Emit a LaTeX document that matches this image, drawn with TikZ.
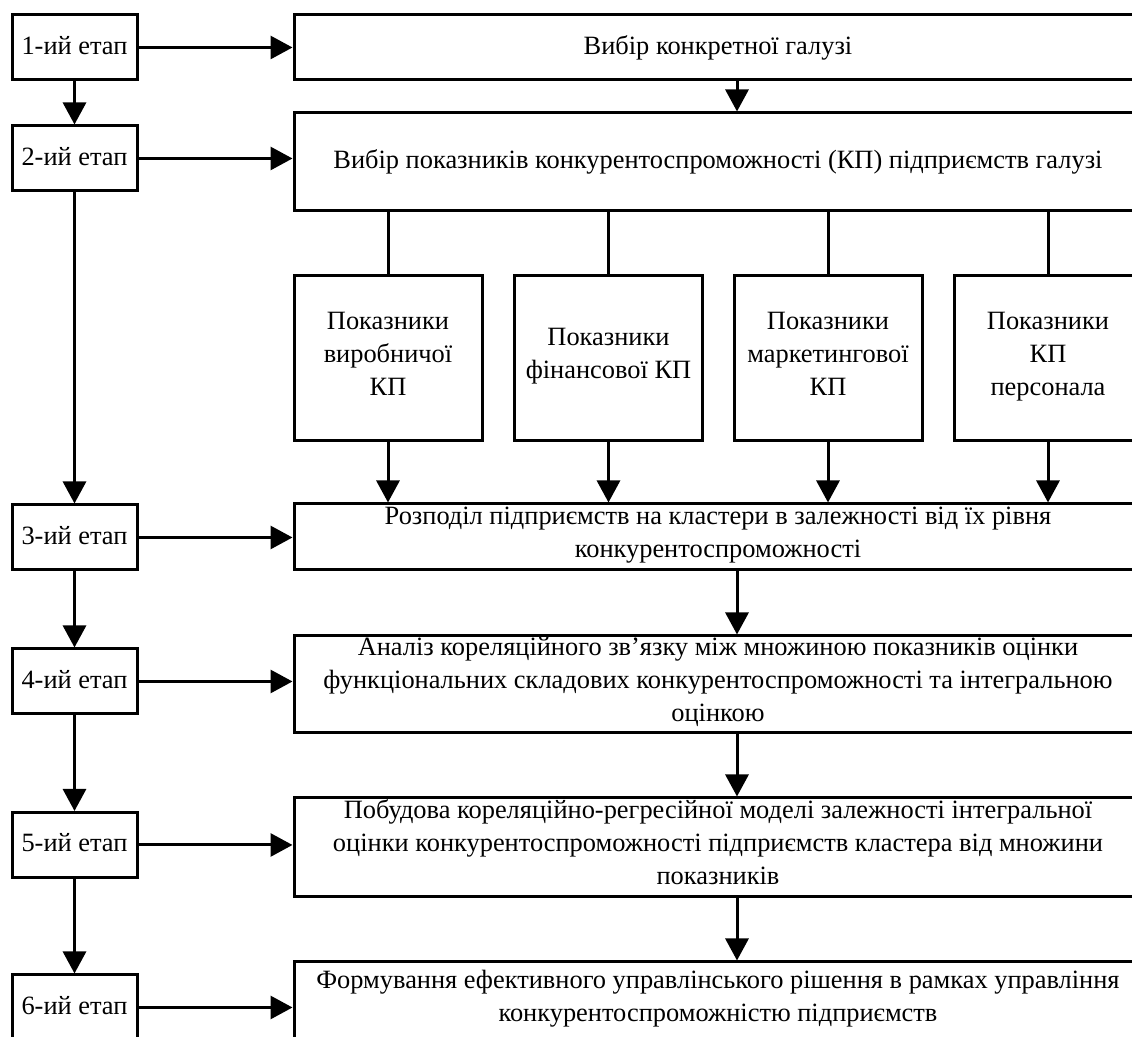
\documentclass[tikz,border=0pt]{standalone}
\usepackage{fontspec}
\setmainfont{Liberation Serif}
\usetikzlibrary{arrows.meta}
\begin{document}
\begin{tikzpicture}[>={Triangle[length=11pt,width=11.5pt]},x=0.5pt,y=0.5pt,line width=1.5pt,
	every node/.style={font=\fontsize{13.2}{16.5}\selectfont,execute at end node=\strut},
	etap/.style={draw,minimum width=62.5pt,minimum height=32.5pt,inner sep=0pt},
	blok/.style={draw,minimum width=424pt,inner sep=0pt,align=center},
	pokaz/.style={draw,minimum width=94pt,minimum height=82.5pt,inner sep=0pt,align=center}]
		\useasboundingbox (0,0) rectangle (1132,1037);
		\node[etap] (e1) at (74.5,989.5) {1-ий етап};
		\node[etap] (e2) at (74.5,878.5) {2-ий етап};
		\node[etap] (e3) at (74.5,499.5) {3-ий етап};
		\node[etap] (e4) at (74.5,355.5) {4-ий етап};
		\node[etap] (e5) at (74.5,192) {5-ий етап};
		\node[etap] (e6) at (74.5,29.5) {6-ий етап};
		\node[blok,minimum height=32.5pt] (b1) at (718,989.5) {Вибір конкретної галузі};
		\node[blok,minimum height=49pt] (b2) at (718,875) {Вибір показників конкурентоспроможності (КП) підприємств галузі};
		\node[blok,minimum height=33pt] (b3) at (718,500) {Розподіл підприємств на кластери в залежності від їх рівня\\конкурентоспроможності};
		\node[blok,minimum height=48.5pt] (b4) at (718,352.5) {Аналіз кореляційного зв’язку між множиною показників оцінки\\функціональних складових конкурентоспроможності та інтегральною\\оцінкою};
		\node[blok,minimum height=49.5pt] (b5) at (718,189.5) {Побудова кореляційно-регресійної моделі залежності інтегральної\\оцінки конкурентоспроможності підприємств кластера від множини\\показників};
		\node[blok,minimum height=39pt] (b6) at (718,36) {Формування ефективного управлінського рішення в рамках управління\\конкурентоспроможністю підприємств};
		\node[pokaz] (p1) at (388,678.5) {Показники\\виробничої\\КП};
		\node[pokaz] (p2) at (608.5,678.5) {Показники\\фінансової КП};
		\node[pokaz] (p3) at (828,678.5) {Показники\\маркетингової\\КП};
		\node[pokaz] (p4) at (1048,678.5) {Показники\\КП\\персонала};
		\coordinate (v) at (737,0);
		\foreach \i/\j in {1/2,2/3,3/4,4/5,5/6} \draw[->] (e\i.south) -- (e\j.north);
		\foreach \i in {1,...,6} \draw[->] (e\i.east) -- (e\i.east -| b\i.west);
		\foreach \i/\j in {1/2,3/4,4/5,5/6} \draw[->] (b\i.south -| v) -- (b\j.north -| v);
		\foreach \i in {1,...,4} {
			\draw (p\i.north) -- (p\i.north |- b2.south);
			\draw[->] (p\i.south) -- (p\i.south |- b3.north);
		}
\end{tikzpicture}
\end{document}
